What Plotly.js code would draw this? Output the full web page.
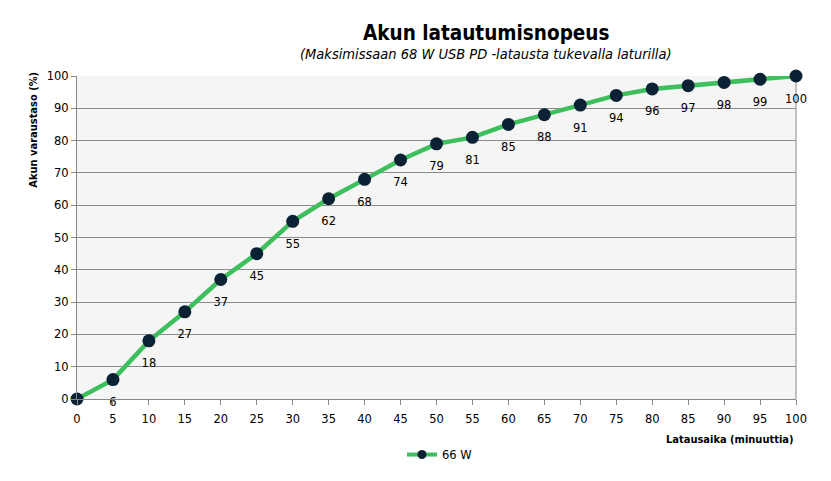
<!DOCTYPE html>
<html><head><meta charset="utf-8">
<script src="https://cdn.plot.ly/plotly-3.0.1.min.js"></script>
<style>html,body{margin:0;padding:0;background:#fff}</style>
</head><body><div id="chart" style="width:831px;height:481px"></div>
<script>
const minutes = [0,5,10,15,20,25,30,35,40,45,50,55,60,65,70,75,80,85,90,95,100];
const charge = [0,6,18,27,37,45,55,62,68,74,79,81,85,88,91,94,96,97,98,99,100];
const seriesName = '66 W';
const fontFam = 'DejaVu Sans, Verdana, sans-serif';
const condFam = 'DejaVu Sans Condensed, Liberation Sans Narrow, sans-serif';
const tickFont = {family:fontFam, size:11.5, color:'#000'};
const lineColor = '#3cbf5c', markerColor = '#0a2233';
// first label coincides with the x tick label "0", so it is left blank
const labels = charge.map((v,i) => i === 0 ? '' : String(v));
const lineTrace = {
  x: minutes, y: charge, name: seriesName, type:'scatter', mode:'lines+markers',
  line:{color:lineColor, width:4.5}, marker:{color:markerColor, size:13},
  showlegend:false, cliponaxis:false
};
const labelTrace = {
  x: minutes, y: charge, type:'scatter', mode:'markers+text', text: labels, textposition:'bottom center',
  textfont: tickFont, marker:{color:'rgba(0,0,0,0)', size:27}, showlegend:false, cliponaxis:false, hoverinfo:'skip'
};
const legendTrace = {
  x:[null], y:[null], name: seriesName, type:'scatter', mode:'lines+markers',
  line:{color:lineColor, width:4}, marker:{color:markerColor, size:9}, showlegend:true
};
const layout = {
  width:831, height:481,
  margin:{l:77, r:35, t:76, b:80},
  paper_bgcolor:'#fff', plot_bgcolor:'#f5f5f5',
  showlegend:true,
  legend:{orientation:'h', x:0.452, y:-0.172, xanchor:'left', yanchor:'middle', font:tickFont, itemwidth:30},
  xaxis:{range:[0,100], tickvals:minutes, ticks:'outside', ticklen:5, tickcolor:'#888', ticklabelstandoff:4,
         showgrid:false, zeroline:false, showline:true, linecolor:'#888', linewidth:1,
         tickfont:tickFont, fixedrange:true},
  yaxis:{range:[0,100], dtick:10, tick0:0, ticks:'outside', ticklen:5, tickcolor:'#888',
         showgrid:true, gridcolor:'#8c8c8c', gridwidth:1, zeroline:false, showline:true, linecolor:'#888',
         tickfont:tickFont, fixedrange:true},
  shapes:[{type:'line', xref:'paper', yref:'paper', x0:1, x1:1, y0:0, y1:1, line:{color:'#888', width:1}, layer:'below'}],
  annotations:[
    {text:'<b>Akun latautumisnopeus</b>', xref:'paper', yref:'paper', x:0.569, y:1.132, xanchor:'center', yanchor:'middle', showarrow:false,
     font:{family:condFam, size:20.5, color:'#000'}},
    {text:'<i>(Maksimissaan 68 W USB PD -latausta tukevalla laturilla)</i>', xref:'paper', yref:'paper', x:0.569, y:1.068, xanchor:'center', yanchor:'middle', showarrow:false,
     font:{family:condFam, size:14.5, color:'#000'}},
    {text:'<b>Akun varaustaso (%)</b>', xref:'paper', yref:'paper', x:-0.061, y:0.834, xanchor:'center', yanchor:'middle', textangle:-90, showarrow:false,
     font:{family:condFam, size:11, color:'#000'}},
    {text:'<b>Latausaika (minuuttia)</b>', xref:'paper', yref:'paper', x:1, y:-0.126, xanchor:'right', yanchor:'middle', showarrow:false,
     font:{family:condFam, size:11, color:'#000'}}
  ]
};
Plotly.newPlot('chart', [lineTrace, labelTrace, legendTrace], layout, {displayModeBar:false, staticPlot:true});
</script></body></html>
